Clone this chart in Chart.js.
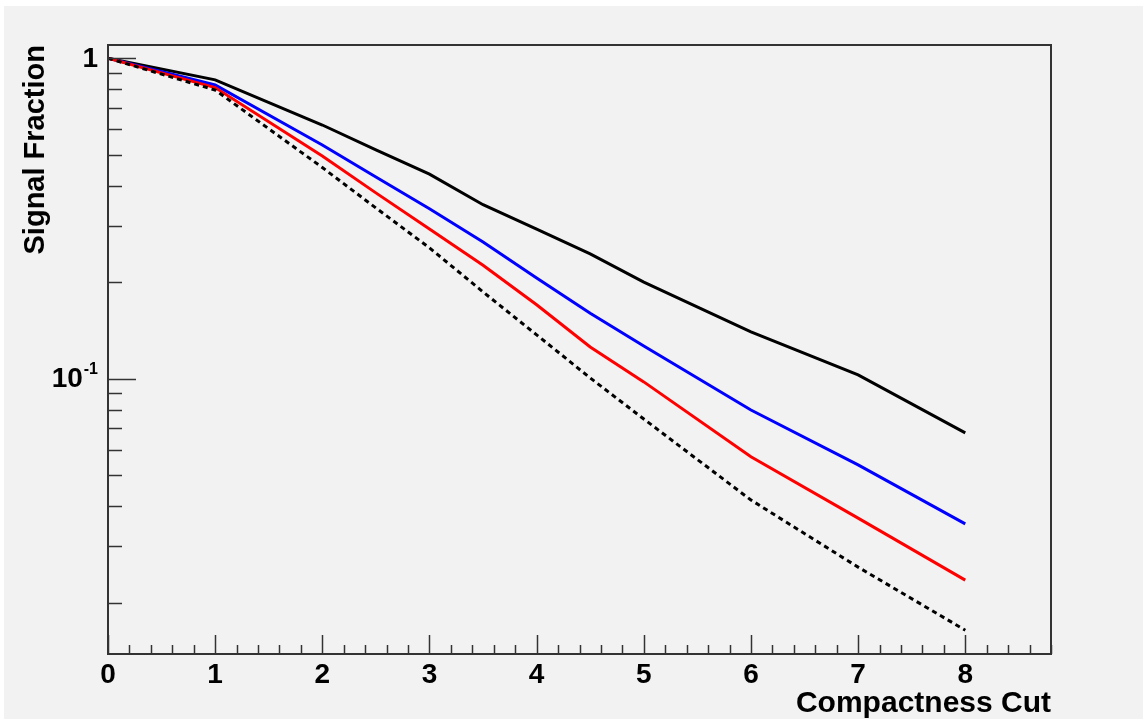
<!DOCTYPE html>
<html>
<head>
<meta charset="utf-8">
<script src="https://cdn.jsdelivr.net/npm/chart.js@4.4.1/dist/chart.umd.min.js"></script>
<style>
  html, body { margin: 0; padding: 0; background: #ffffff; }
  #wrap { position: absolute; left: 4px; top: 6px; width: 1139px; height: 713px; background: #f2f2f2; }
  canvas { display: block; }
</style>
</head>
<body>
<div id="wrap"><canvas id="c" width="1139" height="713"></canvas></div>
<script>
// ---- data ----
const cutValues    = [0, 1, 2, 2.5, 3, 3.5, 4, 4.5, 5, 6, 7, 8];
const blackSeries  = [1, 0.856, 0.619, 0.518, 0.435, 0.349, 0.293, 0.245, 0.200, 0.140, 0.1027, 0.0677];
const blueSeries   = [1, 0.825, 0.536, 0.426, 0.339, 0.267, 0.206, 0.160, 0.1265, 0.0798, 0.0538, 0.0352];
const redSeries    = [1, 0.810, 0.4955, 0.380, 0.293, 0.226, 0.170, 0.1256, 0.0977, 0.0570, 0.0367, 0.0235];
const dottedSeries = [1, 0.796, 0.456, 0.341, 0.256, 0.1865, 0.137, 0.1005, 0.0748, 0.0418, 0.0258, 0.0164];

const xTickLabels  = ['0', '1', '2', '3', '4', '5', '6', '7', '8'];
const yMajorTicks  = [1, 0.1];
const yMajorBase   = ['1', '10'];
const yMajorExp    = ['', '-1'];
const yMinorTicks  = [0.02, 0.03, 0.04, 0.05, 0.06, 0.07, 0.08, 0.09, 0.2, 0.3, 0.4, 0.5, 0.6, 0.7, 0.8, 0.9];

const xTitle = 'Compactness Cut';
const yTitle = 'Signal Fraction';

// ---- chart ----
const FONT = '"Liberation Sans", Arial, Helvetica, sans-serif';
const toPoints = (ys) => cutValues.map((x, i) => ({ x: x, y: ys[i] }));

const framePlugin = {
  id: 'rootFrame',
  afterDatasetsDraw(chart) {
    const { ctx, chartArea: a, scales } = chart;
    const xs = scales.x, ys = scales.y;
    ctx.save();
    ctx.strokeStyle = '#333333';
    ctx.lineCap = 'butt';
    // x ticks (inward from bottom)
    ctx.lineWidth = 1.5;
    for (let k = 0; k <= 44; k++) {
      const v = k * 0.2;
      const px = Math.round(xs.getPixelForValue(v)) + 0.5;
      const major = (k % 5 === 0);
      const len = major ? 19 : 9;
      ctx.beginPath();
      ctx.moveTo(px, a.bottom);
      ctx.lineTo(px, a.bottom - len);
      ctx.stroke();
    }
    // y ticks (inward from left)
    yMinorTicks.concat(yMajorTicks).forEach(v => {
      const py = Math.round(ys.getPixelForValue(v)) + 0.5;
      const len = yMajorTicks.includes(v) ? 28 : 14;
      ctx.beginPath();
      ctx.moveTo(a.left, py);
      ctx.lineTo(a.left + len, py);
      ctx.stroke();
    });
    // frame
    ctx.lineWidth = 2;
    ctx.strokeRect(a.left, a.top, a.right - a.left, a.bottom - a.top);

    // y major labels with superscript exponent
    ctx.fillStyle = '#000000';
    ctx.textBaseline = 'middle';
    yMajorTicks.forEach((v, i) => {
      const py = ys.getPixelForValue(v);
      const rightX = a.left - 10;
      let expW = 0;
      if (yMajorExp[i]) {
        ctx.font = 'bold 16px ' + FONT;
        ctx.textAlign = 'right';
        expW = ctx.measureText(yMajorExp[i]).width;
        ctx.fillText(yMajorExp[i], rightX, py - 9);
        expW += 1;
      }
      ctx.font = 'bold 28px ' + FONT;
      ctx.textAlign = 'right';
      ctx.fillText(yMajorBase[i], rightX - expW, py + 1);
    });
    ctx.restore();
  }
};

new Chart(document.getElementById('c'), {
  type: 'line',
  data: {
    datasets: [
      { label: 'dotted', data: toPoints(dottedSeries), borderColor: '#000000', borderWidth: 3, borderDash: [5, 4] },
      { label: 'red',    data: toPoints(redSeries),    borderColor: '#ff0000', borderWidth: 3 },
      { label: 'blue',   data: toPoints(blueSeries),   borderColor: '#0000ff', borderWidth: 3 },
      { label: 'black',  data: toPoints(blackSeries),  borderColor: '#000000', borderWidth: 3 }
    ]
  },
  options: {
    responsive: false,
    animation: false,
    events: [],
    elements: { point: { radius: 0 }, line: { tension: 0, fill: false } },
    layout: { padding: { left: 0, top: 39, right: 92, bottom: 0 } },
    plugins: { legend: { display: false }, tooltip: { enabled: false } },
    scales: {
      x: {
        type: 'linear', min: 0, max: 8.8,
        grid: { display: false, drawTicks: false },
        border: { display: false },
        afterBuildTicks: (s) => { s.ticks = xTickLabels.map(t => ({ value: Number(t) })); },
        afterFit: (s) => { s.height = 65; },
        ticks: {
          autoSkip: false, maxRotation: 0, padding: 4, color: '#000000',
          font: { family: FONT, weight: 'bold', size: 28 },
          callback: (v) => xTickLabels[xTickLabels.indexOf(String(v))]
        },
        title: {
          display: true, text: xTitle, align: 'end', color: '#000000',
          font: { family: FONT, weight: 'bold', size: 30, lineHeight: 1 },
          padding: { top: 0, bottom: 0 }
        }
      },
      y: {
        type: 'logarithmic', min: 0.01382, max: 1.10,
        grid: { display: false, drawTicks: false },
        border: { display: false },
        afterBuildTicks: (s) => { s.ticks = yMajorTicks.map(v => ({ value: v })); },
        afterFit: (s) => { s.width = 104; },
        ticks: { display: false },
        title: {
          display: true, text: yTitle, align: 'end', color: '#000000',
          font: { family: FONT, weight: 'bold', size: 29, lineHeight: 1 },
          padding: { top: 17, bottom: 0 }
        }
      }
    }
  },
  plugins: [framePlugin]
});
</script>
</body>
</html>
